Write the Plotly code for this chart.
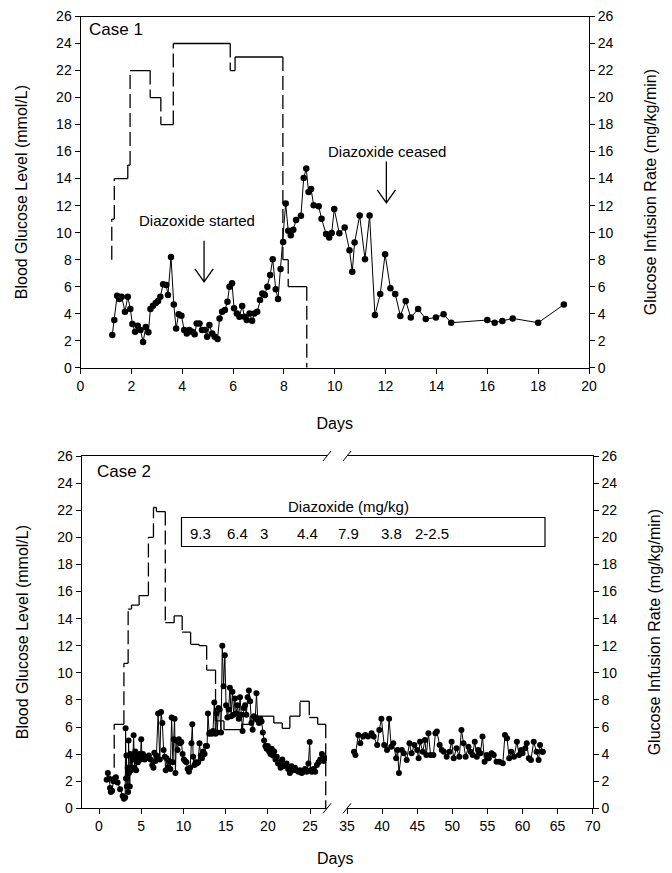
import plotly.graph_objects as go

# ---------------- DATA ----------------
# Case 1: blood glucose (mmol/L)
case1_days = [1.25,1.33,1.44,1.53,1.62,1.75,1.86,1.96,2.04,2.15,
              2.25,2.36,2.46,2.57,2.67,2.75,2.85,2.96,3.05,3.14,
              3.25,3.37,3.44,3.56,3.67,3.76,3.86,3.97,4.08,4.18,
              4.28,4.39,4.49,4.57,4.68,4.78,4.89,4.98,5.07,5.18,
              5.28,5.39,5.47,5.57,5.68,5.78,5.86,5.96,6.04,6.15,
              6.25,6.36,6.45,6.54,6.65,6.75,6.84,6.95,7.06,7.15,
              7.25,7.35,7.46,7.56,7.68,7.77,7.87,7.97,8.07,8.17,
              8.27,8.37,8.48,8.67,8.78,8.88,8.97,9.07,9.17,9.37,
              9.48,9.66,9.78,9.88,9.98,10.18,10.39,10.58,10.69,10.78,
              10.98,11.19,11.37,11.58,11.79,11.98,12.19,12.38,12.58,12.79,
              12.99,13.28,13.58,13.98,14.28,14.58,16.0,16.29,16.59,17.0,
              18.0,19.01]
case1_glucose = [2.42,3.53,5.33,5.09,5.26,4.15,5.26,4.35,3.23,2.67,
                 3.11,2.79,1.9,3.01,2.62,4.35,4.59,4.79,4.94,5.26,
                 6.17,6.12,5.38,8.2,4.67,2.91,3.95,3.85,2.79,2.54,
                 2.79,2.67,2.47,3.28,3.28,2.79,2.79,2.3,3.16,2.54,
                 2.3,2.12,3.65,4.15,4.27,4.89,6.0,6.25,4.4,4.02,
                 3.78,4.57,3.78,3.53,4.02,3.48,4.02,4.15,5.01,5.5,
                 5.38,6.0,6.86,8.02,5.8,5.09,7.3,9.3,12.15,10.13,
                 9.8,10.22,10.94,11.25,14.05,14.75,13.0,13.23,12.02,11.95,
                 11.03,9.9,9.64,9.98,11.74,9.95,10.38,8.7,7.11,9.26,
                 11.26,8.03,11.26,3.9,5.46,8.4,5.88,5.46,3.83,4.94,
                 3.72,4.34,3.6,3.72,3.95,3.33,3.53,3.33,3.46,3.65,
                 3.33,4.67]

# Case 1: glucose infusion rate (mg/kg/min), level changes (last = stop)
case1_inf_days = [1.23, 1.23, 1.33, 1.86, 1.95, 2.74, 3.16, 3.65, 5.89, 6.08, 7.96, 8.17, 8.90]
case1_inf_rate = [8, 11, 14, 15, 22, 20, 18, 24, 22, 23, 8, 6, 0]

# Case 2: blood glucose, first period (day, mmol/L)
case2_glucose_early = [
    (0.9,2.1),(1.05,2.6),(1.2,2.2),(1.3,1.5),(1.4,1.2),(1.55,1.3),(1.7,2.0),(1.85,2.2),(2.0,2.3),(2.2,1.9),
    (2.5,1.4),(2.8,0.9),(2.95,0.7),(3.1,0.8),(3.15,5.9),(3.2,2.2),(3.25,3.9),(3.3,1.6),(3.4,3.0),(3.45,1.2),
    (3.5,5.0),(3.55,2.6),(3.6,3.9),(3.65,1.6),(3.7,4.0),(3.8,2.8),(3.85,3.9),(3.9,3.0),(4.0,3.6),(4.1,5.4),
    (4.2,3.0),(4.3,4.2),(4.4,2.8),(4.5,3.8),(4.6,3.4),(4.7,3.9),(4.8,4.0),(4.9,3.6),(5.0,5.1),(5.1,3.8),
    (5.2,4.0),(5.4,3.6),(5.5,3.8),(5.6,3.7),(5.75,3.8),(5.9,3.9),(6.1,3.6),(6.3,3.2),(6.45,3.0),(6.55,4.1),
    (6.7,3.5),(6.8,3.9),(7.0,7.0),(7.2,3.6),(7.35,7.1),(7.5,6.3),(7.65,4.3),(7.8,3.8),(7.9,2.8),(8.0,3.7),
    (8.15,3.0),(8.3,3.5),(8.45,2.9),(8.6,6.7),(8.75,3.4),(8.85,5.1),(8.95,6.6),(9.05,2.6),(9.15,5.0),(9.3,4.3),
    (9.45,5.1),(9.6,4.8),(9.75,4.9),(9.9,4.0),(10.05,3.6),(10.2,3.5),(10.35,3.4),(10.5,2.9),(10.65,2.7),(10.8,3.0),
    (10.95,4.8),(11.05,6.2),(11.15,3.8),(11.3,3.2),(11.45,3.4),(11.6,3.3),(11.75,3.4),(11.9,4.8),(12.05,3.9),(12.2,3.7),
    (12.35,4.2),(12.5,4.0),(12.65,4.6),(12.8,4.6),(12.9,7.0),(13.05,5.5),(13.2,5.6),(13.35,5.5),(13.5,5.7),(13.65,7.8),
    (13.8,5.5),(13.9,7.0),(14.0,5.6),(14.15,7.4),(14.3,7.3),(14.45,5.6),(14.6,12.0),(14.75,9.0),(14.9,11.3),(15.05,7.6),
    (15.2,6.7),(15.35,7.3),(15.5,8.9),(15.65,6.8),(15.8,8.6),(15.95,6.9),(16.1,8.1),(16.25,7.0),(16.4,7.6),(16.55,6.6),
    (16.7,8.2),(16.85,6.9),(17.0,5.7),(17.15,7.4),(17.3,7.6),(17.45,6.9),(17.6,8.2),(17.75,8.7),(17.9,7.9),(18.05,6.3),
    (18.2,5.8),(18.35,6.8),(18.5,6.6),(18.65,8.5),(18.8,6.5),(18.95,6.3),(19.1,6.6),(19.25,6.4),(19.4,5.6),(19.55,5.0),
    (19.7,4.6),(19.85,4.4),(20.0,4.6),(20.15,4.2),(20.3,4.0),(20.45,4.4),(20.6,3.9),(20.75,4.2),(20.9,3.6),(21.05,3.8),
    (21.2,3.3),(21.35,3.4),(21.5,3.0),(21.7,3.6),(21.85,3.1),(22.0,3.2),(22.2,3.3),(22.4,2.9),(22.6,2.6),(22.8,3.1),
    (23.0,2.8),(23.2,3.0),(23.4,2.8),(23.6,2.7),(23.8,2.8),(24.0,2.6),(24.2,2.7),(24.4,2.9),(24.6,2.7),(24.8,3.3),
    (24.95,4.9),(25.05,2.8),(25.2,2.7),(25.4,2.9),(25.6,2.7),(25.8,3.2),(26.0,3.4),(26.2,3.6),(26.4,4.0),(26.6,3.5),
    (26.8,3.7)]

# Case 2: blood glucose, later period (day, mmol/L)
case2_glucose_late = [
    (36.0,4.18),(36.2,3.94),(36.6,5.41),(36.9,4.8),(37.3,5.29),(37.6,5.41),(38.0,5.29),(38.5,5.54),(38.8,5.29),(39.3,4.67),
    (39.6,5.78),(39.9,6.6),(40.3,4.67),(40.7,4.3),(41.0,6.6),(41.3,4.55),(41.6,4.8),(42.0,3.69),(42.2,4.3),(42.4,2.6),
    (42.8,4.3),(43.1,4.06),(43.5,3.57),(43.9,4.8),(44.2,4.06),(44.6,4.67),(45.0,4.3),(45.2,3.69),(45.4,4.92),(45.8,4.18),
    (46.1,5.04),(46.3,3.94),(46.6,5.54),(46.9,3.94),(47.3,3.94),(47.6,5.54),(47.8,5.66),(48.2,4.67),(48.5,4.3),(48.8,4.18),
    (49.2,3.81),(49.6,4.18),(49.9,4.92),(50.2,3.69),(50.6,4.43),(51.0,3.81),(51.3,5.78),(51.6,4.8),(51.9,3.81),(52.3,4.55),
    (52.6,4.18),(52.9,3.94),(53.2,4.92),(53.5,3.81),(53.7,4.3),(54.0,4.06),(54.3,5.29),(54.6,3.44),(54.9,3.94),(55.2,3.69),
    (55.6,4.06),(55.9,3.94),(56.3,3.44),(56.7,3.44),(57.2,3.32),(57.5,5.41),(57.8,5.17),(58.1,3.69),(58.4,4.18),(58.8,3.81),
    (59.2,4.92),(59.5,3.94),(59.8,4.3),(60.0,4.06),(60.4,4.43),(60.6,4.8),(60.9,3.69),(61.2,3.57),(61.6,4.92),(62.0,4.18),
    (62.3,3.57),(62.5,4.67),(62.8,4.18),(62.9,4.18)]

# Case 2: glucose infusion rate level changes (last = stop)
case2_inf_days = [1.8, 1.8, 2.95, 3.45, 3.85, 4.75, 5.85, 6.45, 6.8, 7.85, 8.9, 9.85, 10.85, 11.85, 12.75,
                  13.8, 14.8, 16.9, 17.9, 20.7, 21.7, 22.6, 23.8, 24.9, 25.9, 26.85]
case2_inf_rate = [3.0, 6.2, 10.7, 14.7, 15.0, 15.7, 20.0, 22.2, 21.9, 13.7, 14.2, 13.0, 12.1, 12.0, 10.2,
                  6.45, 5.8, 6.2, 6.8, 6.3, 5.9, 6.8, 7.9, 6.7, 6.2, 0]

# Diazoxide doses (mg/kg) in Case 2
diazoxide_doses = ["9.3", "6.4", "3", "4.4", "7.9", "3.8", "2-2.5"]

# Case 1 event arrows
event_labels = ["Diazoxide started", "Diazoxide ceased"]
event_days = [4.86, 12.03]

y_ticks = list(range(0, 27, 2))
x1_ticks = list(range(0, 21, 2))
x2a_ticks = [0, 5, 10, 15, 20, 25]
x2b_ticks = [35, 40, 45, 50, 55, 60, 65, 70]

# ---------------- LAYOUT HELPERS ----------------
OFF = 8                      # page body margin
W, H = 672 - OFF, 873 - OFF
FONT = "Liberation Sans, Arial, sans-serif"


def fx(p):
    return (p - OFF) / W


def fy(p):
    return 1 - (p - OFF) / H


def step_segments(days, rates):
    hx, hy, vx, vy = [], [], [], []
    for i in range(len(days)):
        if i > 0:
            vx += [days[i], days[i], None]
            vy += [rates[i - 1], rates[i], None]
        if i < len(days) - 1:
            hx += [days[i], days[i + 1], None]
            hy += [rates[i], rates[i], None]
    return hx, hy, vx, vy


fig = go.Figure()

line_style = dict(color="black", width=1.3)
dash_style = dict(color="black", width=1.3, dash="14px,5px")
marker_style = dict(color="black", size=6.5)

# Case 1 infusion
hx, hy, vx, vy = step_segments(case1_inf_days, case1_inf_rate)
fig.add_trace(go.Scatter(x=hx, y=hy, mode="lines", line=line_style, xaxis="x", yaxis="y2",
                         showlegend=False, hoverinfo="skip"))
fig.add_trace(go.Scatter(x=vx, y=vy, mode="lines", line=dash_style, xaxis="x", yaxis="y2",
                         showlegend=False, hoverinfo="skip"))
# Case 1 glucose
fig.add_trace(go.Scatter(x=case1_days, y=case1_glucose, mode="lines+markers",
                         line=dict(color="black", width=1), marker=marker_style,
                         xaxis="x", yaxis="y", showlegend=False))

# Case 2 infusion
hx, hy, vx, vy = step_segments(case2_inf_days, case2_inf_rate)
fig.add_trace(go.Scatter(x=hx, y=hy, mode="lines", line=line_style, xaxis="x3", yaxis="y3",
                         showlegend=False, hoverinfo="skip"))
fig.add_trace(go.Scatter(x=vx, y=vy, mode="lines", line=dash_style, xaxis="x3", yaxis="y3",
                         showlegend=False, hoverinfo="skip"))
# Case 2 glucose
fig.add_trace(go.Scatter(x=[d for d, v in case2_glucose_early], y=[v for d, v in case2_glucose_early],
                         mode="lines+markers", line=dict(color="black", width=1),
                         marker=dict(color="black", size=6), xaxis="x3", yaxis="y3", showlegend=False))
fig.add_trace(go.Scatter(x=[d for d, v in case2_glucose_late], y=[v for d, v in case2_glucose_late],
                         mode="lines+markers", line=dict(color="black", width=1),
                         marker=dict(color="black", size=6), xaxis="x4", yaxis="y4", showlegend=False))

tickfont = dict(family=FONT, size=14, color="black")
titlefont = dict(family=FONT, size=16, color="black")
common = dict(showgrid=False, zeroline=False, showline=True, linecolor="black", linewidth=1,
              ticks="outside", ticklen=5, tickcolor="black", tickfont=tickfont, automargin=False,
              ticklabeloverflow="allow")

top_x = [fx(80.5), fx(589)]
top_y = [fy(367.7), fy(16.5)]
bot_y = [fy(808.3), fy(456)]
seg1_x = [fx(81.7), fx(327)]
seg2_x = [fx(347), fx(592.7)]

fig.update_layout(
    width=W, height=H,
    margin=dict(l=0, r=0, t=0, b=0),
    paper_bgcolor="white", plot_bgcolor="white",
    font=dict(family=FONT, color="black"),
    xaxis=dict(domain=top_x, anchor="y", range=[0, 20], tickvals=x1_ticks, mirror=True,
               title=dict(text="Days", font=titlefont, standoff=25), **common),
    yaxis=dict(domain=top_y, anchor="x", range=[0, 26], tickvals=y_ticks,
               title=dict(text="Blood Glucose Level (mmol/L)", font=titlefont, standoff=24), **common),
    yaxis2=dict(overlaying="y", anchor="x", side="right", range=[0, 26], tickvals=y_ticks,
                title=dict(text="Glucose Infusion Rate (mg/kg/min)", font=titlefont, standoff=32), **common),
    xaxis3=dict(domain=seg1_x, anchor="y3", range=[-2.05, 27.0], tickvals=x2a_ticks, mirror=True, **common),
    yaxis3=dict(domain=bot_y, anchor="x3", range=[0, 26], tickvals=y_ticks,
                title=dict(text="Blood Glucose Level (mmol/L)", font=titlefont, standoff=24), **common),
    xaxis4=dict(domain=seg2_x, anchor="y4", range=[35, 70], tickvals=x2b_ticks, mirror=True, **common),
    yaxis4=dict(domain=bot_y, anchor="x4", side="right", range=[0, 26], tickvals=y_ticks,
                title=dict(text="Glucose Infusion Rate (mg/kg/min)", font=titlefont, standoff=32), **common),
)

annotations = [
    dict(text="Case 1", x=fx(87), y=fy(30), xref="paper", yref="paper", xanchor="left", yanchor="middle",
         showarrow=False, font=dict(family=FONT, size=17, color="black")),
    dict(text="Case 2", x=fx(95), y=fy(472), xref="paper", yref="paper", xanchor="left", yanchor="middle",
         showarrow=False, font=dict(family=FONT, size=17, color="black")),
    dict(text="Days", x=fx(335), y=fy(858), xref="paper", yref="paper", xanchor="center", yanchor="middle",
         showarrow=False, font=titlefont),
    dict(text="Diazoxide (mg/kg)", x=fx(348), y=fy(506), xref="paper", yref="paper", xanchor="center",
         yanchor="middle", showarrow=False, font=dict(family=FONT, size=15, color="black")),
]
dose_px = [200, 237.7, 264, 307.7, 348.3, 391.7, 431.7]
for lab, px in zip(diazoxide_doses, dose_px):
    annotations.append(dict(text=lab, x=fx(px), y=fy(533), xref="paper", yref="paper", xanchor="center",
                            yanchor="middle", showarrow=False, font=dict(family=FONT, size=15, color="black")))

# event labels and arrows (Case 1)
label_pos = [(4.57, 10.9), (12.07, 16.0)]
arrow_span = [(9.39, 6.35), (15.26, 12.2)]
shapes = []
for lab, d, (lx, ly), (ytop, ytip) in zip(event_labels, event_days, label_pos, arrow_span):
    annotations.append(dict(text=lab, x=lx, y=ly, xref="x", yref="y", xanchor="center", yanchor="middle",
                            showarrow=False, font=dict(family=FONT, size=15, color="black")))
    path = (f"M {d},{ytop} L {d},{ytip} M {d-0.36},{ytip+0.97} L {d},{ytip} L {d+0.36},{ytip+0.97}")
    shapes.append(dict(type="path", path=path, xref="x", yref="y", line=dict(color="black", width=1.3)))

# diazoxide box
shapes.append(dict(type="rect", xref="paper", yref="paper", x0=fx(181.5), x1=fx(545), y0=fy(546.5), y1=fy(517.5),
                   line=dict(color="black", width=1.2), fillcolor="rgba(0,0,0,0)"))

# axis break marks
for bx in [327, 347]:
    for by in [456, 808.3]:
        shapes.append(dict(type="line", xref="paper", yref="paper",
                           x0=fx(bx - 4), y0=fy(by + 5), x1=fx(bx + 4), y1=fy(by - 5),
                           line=dict(color="black", width=1)))

fig.update_layout(annotations=annotations, shapes=shapes)

fig.write_html("out.html")
